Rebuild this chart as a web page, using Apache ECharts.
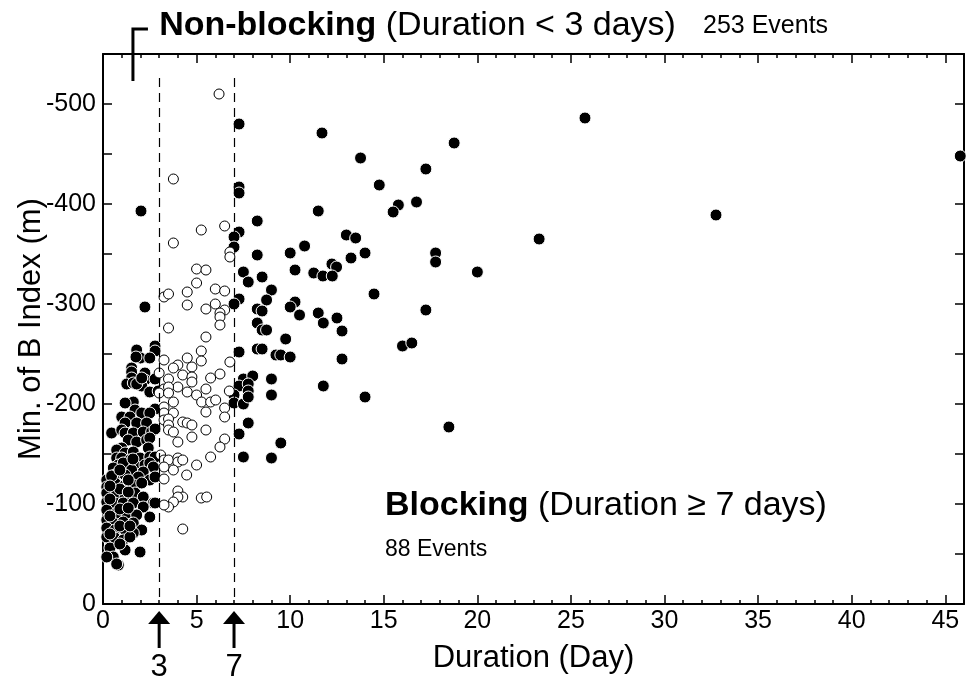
<!DOCTYPE html>
<html><head><meta charset="utf-8">
<script src="https://cdn.jsdelivr.net/npm/echarts@6/dist/echarts.min.js"></script>
<style>html,body{margin:0;padding:0;background:#fff}#c{width:966px;height:686px}</style>
</head><body><div id="c"></div>
<script>
// ---- data (Duration in days, Min. of B Index in m) ----
const xLabelValues = [0, 5, 10, 15, 20, 25, 30, 35, 40, 45];
const yLabelValues = [0, -100, -200, -300, -400, -500];
const markerDays = [3, 7];

// Non-blocking events (Duration < 3 days) - filled
const nonBlocking = [
[2.03,-393],[2.24,-297],
[1.8,-254],[2.78,-258],[2.78,-253],[2.0,-246],[2.5,-246],[1.76,-247],[1.53,-236],
[1.53,-232],[2.24,-231],[1.53,-226],[2.24,-224],[1.27,-220],[1.62,-221],[2.07,-218],[2.5,-212],
[1.8,-220],[2.07,-226],[2.78,-225],[2.95,-213],
[1.62,-202],[1.18,-201],[1.71,-194],[2.07,-191],[2.78,-195],[2.5,-191],[1.0,-187],[1.44,-187],
[1.18,-181],[1.8,-181],[2.33,-181],[0.46,-171],[1.0,-174],[1.18,-171],[1.62,-171],[2.15,-172],
[2.6,-172],[2.78,-175],[1.35,-164],[1.8,-162],[2.33,-164],[2.5,-166],[2.42,-156],[1.0,-156],
[0.73,-154],[1.18,-151],[1.62,-152],[0.73,-146],[1.0,-146],[1.44,-144],[1.98,-146],[2.5,-147],
[2.78,-147],[0.82,-139],[1.27,-137],[1.8,-137],[2.24,-139],
[1.08,-141],[2.5,-141],[2.69,-137],[0.55,-136],[1.53,-134],[2.15,-132],[0.64,-129],[1.18,-129],
[1.89,-127],[2.5,-124],[0.2,-124],[0.2,-117],[0.64,-121],[1.18,-119],[1.62,-119],[2.07,-121],
[0.2,-111],[0.73,-111],[1.18,-107],[1.71,-111],[2.15,-107],[2.69,-101],[0.2,-102],[0.64,-101],
[1.08,-101],[1.62,-101],[2.15,-97],[0.2,-94],[0.73,-91],[1.27,-91],[1.8,-89],[2.5,-87],
[0.2,-84],[0.55,-81],[1.08,-82],[1.62,-81],[2.07,-74],[0.2,-76],[0.64,-74],[1.18,-74],
[1.62,-71],[0.2,-67],[0.64,-66],[1.08,-64],[1.44,-67],[0.37,-56],[1.18,-54],[1.98,-52],
[0.55,-47],[0.2,-47],[0.82,-39],[2.78,-127],[2.78,-101],[0.73,-40],
[0.37,-105],[0.9,-115],[0.9,-95],[0.37,-88],[0.9,-78],[0.37,-70],[0.9,-60],[0.46,-128],
[0.37,-118],[1.35,-112],[1.35,-96],[1.44,-78],[1.35,-124],[0.9,-134],[1.6,-145]
];

// Events with 3 <= Duration < 7 days - open
const intermediate = [
[3.76,-425],[3.76,-361],[5.25,-374],[6.5,-378],[6.2,-510],[5.0,-335],[5.5,-334],[5.0,-321],
[4.5,-312],[4.5,-299],[3.26,-307],[3.5,-310],[6.0,-315],[6.5,-313],[6.0,-300],[6.5,-294],
[5.5,-295],[6.25,-291],[6.25,-287],[6.25,-279],[6.78,-352],[6.78,-347],[3.5,-276],[5.5,-267],
[5.25,-253],[5.25,-243],[4.5,-246],[4.75,-237],[4.0,-239],[3.76,-236],[3.26,-244],[6.78,-242],
[6.25,-230],[5.75,-226],[4.26,-229],[4.75,-227],[4.75,-222],[4.5,-212],[3.0,-231],[3.5,-225],
[4.0,-217],[5.5,-215],[3.26,-215],[3.0,-211],[3.5,-217],[3.5,-211],[5.0,-209],[6.75,-213],
[5.27,-202],[5.75,-202],[6.02,-204],[5.5,-192],[6.5,-196],[6.5,-187],[3.26,-197],[3.26,-191],
[3.26,-184],[3.76,-202],[3.76,-191],[3.5,-185],[3.5,-179],[3.5,-174],[3.76,-172],[4.26,-182],
[4.5,-181],[4.75,-179],[4.75,-167],[5.5,-174],[4.0,-162],[6.5,-165],[6.25,-157],[5.75,-147],
[3.08,-149],[3.26,-144],[3.5,-144],[4.0,-146],[4.0,-142],[4.26,-144],[3.76,-134],[3.26,-137],
[5.0,-139],[4.47,-129],[3.26,-125],[4.0,-113],[4.26,-107],[4.0,-107],[3.76,-102],[3.5,-97],
[3.26,-99],[5.25,-106],[5.54,-107],[4.26,-75]
];

// Blocking events (Duration >= 7 days) - filled
const blocking = [
[7.27,-480],[11.7,-471],[18.76,-461],[13.76,-446],[17.25,-435],[7.27,-417],[7.27,-411],[14.76,-419],
[11.5,-393],[15.78,-399],[15.5,-392],[16.75,-402],[8.24,-383],[7.27,-372],[7.0,-367],[7.0,-357],
[13.0,-369],[13.5,-366],[10.77,-358],[8.24,-349],[10.0,-351],[14.0,-351],[17.77,-351],[17.77,-342],
[13.25,-346],[12.23,-340],[12.48,-337],[7.5,-332],[7.76,-322],[8.5,-327],[10.26,-334],[11.26,-331],
[11.75,-328],[12.25,-328],[20.0,-332],[9.0,-314],[8.74,-304],[7.27,-305],[7.0,-300],[14.48,-310],
[8.24,-295],[8.5,-293],[10.26,-302],[10.0,-297],[10.5,-289],[11.5,-291],[11.77,-281],[12.5,-286],
[12.77,-273],[17.25,-294],[8.24,-281],[8.5,-274],[8.74,-274],[9.76,-265],[8.24,-255],[8.5,-255],
[9.24,-249],[9.5,-249],[10.0,-247],[7.27,-252],[12.77,-245],[16.0,-258],[16.5,-261],[7.5,-225],
[8.0,-228],[7.27,-218],[7.76,-220],[7.76,-213],[9.0,-225],[9.0,-209],[11.77,-218],[7.0,-209],
[7.0,-201],[7.5,-200],[7.76,-207],[14.0,-207],[7.76,-181],[18.48,-177],[7.27,-170],[9.5,-161],
[7.5,-147],[9.0,-146],[25.75,-486],[23.3,-365],[32.75,-389],[45.8,-448]
];

const FONT = '"Liberation Sans", Arial, Helvetica, sans-serif';
const chart = echarts.init(document.getElementById('c'), null, {renderer: 'canvas'});

const lineStyle = {color: '#000', width: 2};
const tickStyle = {color: '#000', width: 1.5};

function xAx(pos, interval, tickLen, withLabels, showLine) {
  return {
    type: 'value', min: 0, max: 46, interval: interval, position: pos,
    axisLine: {show: showLine, onZero: false, lineStyle: lineStyle},
    axisTick: {show: true, inside: true, length: tickLen, lineStyle: tickStyle},
    axisLabel: withLabels ? {
      show: true, color: '#000', fontSize: 25, fontFamily: FONT, margin: 5,
      formatter: v => xLabelValues.indexOf(v) >= 0 ? String(v) : ''
    } : {show: false},
    splitLine: {show: false}
  };
}
function yAx(pos, withLabels) {
  return {
    type: 'value', min: -550, max: 0, interval: 50, inverse: true, position: pos,
    axisLine: {show: true, onZero: false, lineStyle: lineStyle},
    axisTick: {show: true, inside: true, length: 9, lineStyle: tickStyle},
    axisLabel: withLabels ? {
      show: true, color: '#000', fontSize: 25, fontFamily: FONT, margin: 7,
      formatter: v => yLabelValues.indexOf(v) >= 0 ? String(v) : ''
    } : {show: false},
    splitLine: {show: false}
  };
}

const xMain = xAx('bottom', 5, 9, true, true);
xMain.name = 'Duration (Day)';
xMain.nameLocation = 'middle';
xMain.nameGap = 39;
xMain.nameMoveOverlap = false;
xMain.nameTextStyle = {fontSize: 31, color: '#000', fontFamily: FONT};
const yMain = yAx('left', true);
yMain.name = 'Min. of B Index (m)';
yMain.nameLocation = 'middle';
yMain.nameGap = 56;
yMain.nameRotate = 90;
yMain.nameMoveOverlap = false;
yMain.nameTextStyle = {fontSize: 31, color: '#000', fontFamily: FONT};

const filledStyle = {color: '#000', borderColor: '#fff', borderWidth: 1, opacity: 1};
const option = {
  animation: false,
  backgroundColor: '#fff',
  grid: {left: 103, right: 2, top: 54, bottom: 82, containLabel: false, outerBoundsMode: 'none'},
  xAxis: [xMain, xAx('bottom', 1, 4, false, false), xAx('top', 5, 9, false, true), xAx('top', 1, 4, false, false)],
  yAxis: [yMain, yAx('right', false)],
  series: [
    {name: 'Non-blocking', type: 'scatter', data: nonBlocking, symbol: 'circle', symbolSize: 12,
     itemStyle: filledStyle, emphasis: {disabled: true}, silent: true},
    {name: 'Blocking', type: 'scatter', data: blocking, symbol: 'circle', symbolSize: 12,
     itemStyle: filledStyle, emphasis: {disabled: true}, silent: true},
    {name: 'Intermediate', type: 'scatter', data: intermediate, symbol: 'circle', symbolSize: 10,
     itemStyle: {color: '#fff', borderColor: '#000', borderWidth: 1, opacity: 1},
     emphasis: {disabled: true}, silent: true,
     markLine: {
       silent: true, symbol: ['none', 'none'], label: {show: false},
       lineStyle: {color: '#000', width: 1.2, type: [9, 6]},
       emphasis: {disabled: true},
       data: markerDays.map(d => [{coord: [d, -526]}, {coord: [d, 0]}])
     }}
  ]
};
chart.setOption(option);

// annotations positioned through the axis scale
const graphics = [];
markerDays.forEach(d => {
  const px = chart.convertToPixel({xAxisIndex: 0}, d);
  graphics.push({type: 'polygon', shape: {points: [[px, 611], [px - 11, 624], [px + 11, 624]]}, style: {fill: '#000'}});
  graphics.push({type: 'rect', shape: {x: px - 1.5, y: 622, width: 3, height: 26}, style: {fill: '#000'}});
  graphics.push({type: 'text', style: {text: String(d), x: px, y: 667, align: 'center', verticalAlign: 'middle',
    font: '31px ' + FONT, fill: '#000'}});
});
const bx = chart.convertToPixel({xAxisIndex: 0}, 1.6);
const by = chart.convertToPixel({yAxisIndex: 0}, -523);
graphics.push({type: 'polyline', shape: {points: [[bx, by], [bx, 29], [bx + 15, 29]]}, style: {stroke: '#000', lineWidth: 3, fill: null}});
const tx = chart.convertToPixel({xAxisIndex: 0}, 3);
graphics.push({type: 'text', style: {
  text: '{b|Non-blocking} {r|(Duration < 3 days)}', x: tx, y: 26, verticalAlign: 'middle', align: 'left',
  font: '34px ' + FONT, fill: '#000',
  rich: {b: {font: 'bold 34px ' + FONT, fill: '#000'}, r: {font: '34px ' + FONT, fill: '#000'}}
}});
graphics.push({type: 'text', style: {text: '253 Events', x: 703, y: 26, verticalAlign: 'middle', align: 'left',
  font: '25px ' + FONT, fill: '#000'}});
graphics.push({type: 'text', style: {
  text: '{b|Blocking} {r|(Duration \u2265 7 days)}', x: 385, y: 506, verticalAlign: 'middle', align: 'left',
  font: '34px ' + FONT, fill: '#000',
  rich: {b: {font: 'bold 34px ' + FONT, fill: '#000'}, r: {font: '34px ' + FONT, fill: '#000'}}
}});
graphics.push({type: 'text', style: {text: '88 Events', x: 385, y: 550, verticalAlign: 'middle', align: 'left',
  font: '23px ' + FONT, fill: '#000'}});
chart.setOption({graphic: graphics.map(g => Object.assign({silent: true, z: 100}, g))});
</script>
</body></html>
